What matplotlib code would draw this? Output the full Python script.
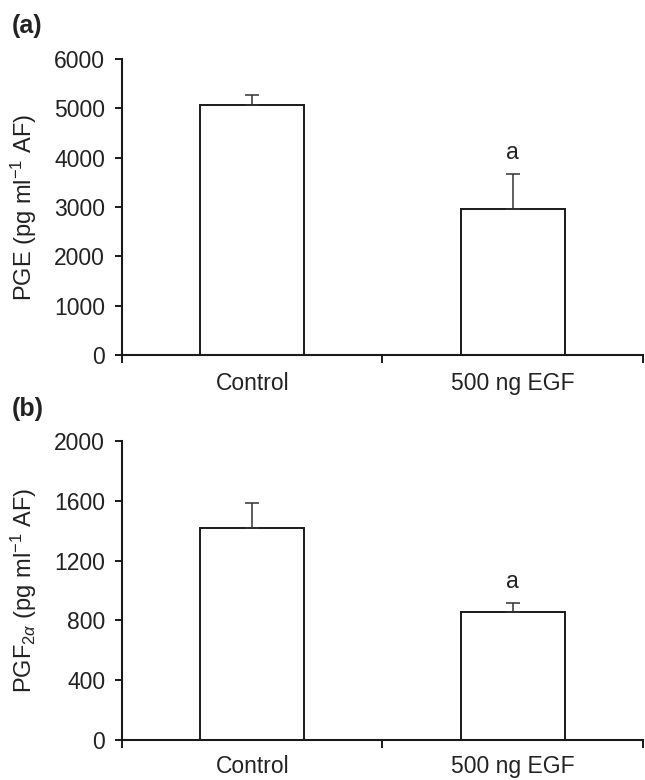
import matplotlib
matplotlib.use("Agg")
import matplotlib.pyplot as plt

plt.rcParams['font.family'] = ['Liberation Sans', 'DejaVu Sans']
plt.rcParams['mathtext.fontset'] = 'custom'
plt.rcParams['mathtext.rm'] = 'Liberation Sans'
plt.rcParams['mathtext.it'] = 'Liberation Sans:italic'

# data
groups = ['Control', '500 ng EGF']
pge_mean = [5070, 2970]
pge_sem = [200, 690]
pgf_mean = [1420, 855]
pgf_sem = [165, 60]
sig_marks = ['', 'a']

pge_ticks = [0, 1000, 2000, 3000, 4000, 5000, 6000]
pgf_ticks = [0, 400, 800, 1200, 1600, 2000]

LINE = '#1a1a1a'
TXT = '#222222'
FS = 16.5


def draw_panel(ax, means, errs, yticks, ylabel, xlabel_pad):
    xs = [i + 0.5 for i in range(len(groups))]
    ax.bar(xs, means, width=0.4, facecolor='white', edgecolor=LINE,
           linewidth=1.4, zorder=2)
    ax.errorbar(xs, means, yerr=[[0] * len(errs), errs], fmt='none',
                ecolor='#333333', elinewidth=1.1, capsize=5, capthick=1.1,
                zorder=3)
    for x, m, e, s in zip(xs, means, errs, sig_marks):
        if s:
            ax.annotate(s, (x, m + e), xytext=(0, 11), textcoords='offset points',
                        ha='center', va='baseline', fontsize=FS, color=TXT)

    ax.set_xlim(0, len(groups))
    ax.set_ylim(yticks[0], yticks[-1])
    ax.set_yticks(yticks)
    ax.set_xticks(range(len(groups) + 1))
    ax.set_xticklabels([])
    ax.set_xticks(xs, minor=True)
    ax.set_xticklabels(groups, minor=True)
    ax.tick_params(axis='x', which='major', direction='out', length=6,
                   width=1.4, color=LINE)
    ax.tick_params(axis='x', which='minor', length=0, pad=xlabel_pad,
                   labelsize=FS, labelcolor=TXT)
    ax.tick_params(axis='y', direction='out', length=5, width=1.4, color=LINE,
                   labelsize=FS, labelcolor=TXT, pad=7)
    for side in ['top', 'right']:
        ax.spines[side].set_visible(False)
    for side in ['left', 'bottom']:
        ax.spines[side].set_linewidth(1.5)
        ax.spines[side].set_color(LINE)
    ax.set_ylabel(ylabel, fontsize=17, color=TXT)
    ax.yaxis.set_label_coords(-0.16, 0.5)


fig = plt.figure(figsize=(6.45, 7.8), dpi=100)
ax1 = fig.add_axes([0.189, 0.5445, 0.808, 0.380])
ax2 = fig.add_axes([0.189, 0.0513, 0.808, 0.3833])

draw_panel(ax1, pge_mean, pge_sem, pge_ticks, 'PGE (pg ml$^{-1}$ AF)', 12)
draw_panel(ax2, pgf_mean, pgf_sem, pgf_ticks,
           r'PGF$_{2\alpha}$ (pg ml$^{-1}$ AF)', 10.5)

fig.text(12 / 645, 1 - 33 / 780, '(a)', fontsize=18, fontweight='bold',
         va='baseline', color=TXT)
fig.text(12 / 645, 1 - 416 / 780, '(b)', fontsize=18, fontweight='bold',
         va='baseline', color=TXT)

fig.savefig('out.png', dpi=100, facecolor='white')
